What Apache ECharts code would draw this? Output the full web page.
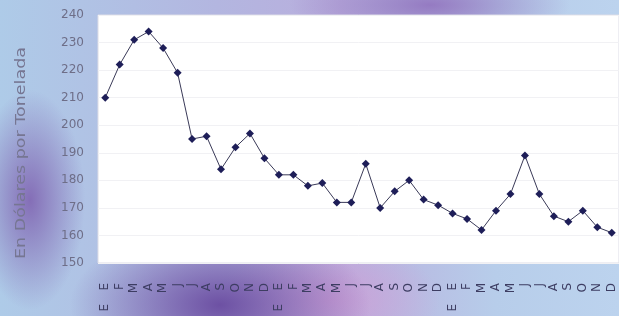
<!DOCTYPE html>
<html>
<head>
<meta charset="utf-8">
<script src="https://cdn.jsdelivr.net/npm/echarts@6/dist/echarts.min.js"></script>
<style>
html, body { margin: 0; padding: 0; }
#chart {
  width: 619px; height: 316px;
  background:
    radial-gradient(ellipse 150px 80px at 220px 305px, rgba(105,75,160,0.95), rgba(105,75,160,0) 100%),
    radial-gradient(ellipse 110px 60px at 330px 300px, rgba(205,160,215,0.9), rgba(205,160,215,0) 100%),
    radial-gradient(ellipse 55px 110px at 30px 200px, rgba(130,105,180,0.95), rgba(130,105,180,0) 100%),
    radial-gradient(ellipse 140px 40px at 430px 5px, rgba(145,115,190,0.9), rgba(145,115,190,0) 100%),
    linear-gradient(90deg, #aecbe8 0%, #b3b6e0 35%, #b9aedd 55%, #b7cdea 80%, #bcd3ee 100%);
}
</style>
</head>
<body>
<div id="chart"></div>
<script>
var months = ['E', 'F', 'M', 'A', 'M', 'J', 'J', 'A', 'S', 'O', 'N', 'D']
var categories = months.concat(months, months)
var yearLabels = ['E', '', '', '', '', '', '', '', '', '', '', '',
                  'E', '', '', '', '', '', '', '', '', '', '', '',
                  'E', '', '', '', '', '', '', '', '', '', '', '']
var prices = [210, 222, 231, 234, 228, 219, 195, 196, 184, 192, 197, 188,
              182, 182, 178, 179, 172, 172, 186, 170, 176, 180, 173, 171,
              168, 166, 162, 169, 175, 189, 175, 167, 165, 169, 163, 161]

var myChart = echarts.init(document.getElementById('chart'))
var labelStyle = {
  rotate: 90,
  interval: 0,
  color: '#3d3d62',
  fontSize: 12,
  fontFamily: 'DejaVu Sans'
}
var option = {
  animation: false,
  grid: {
    left: 98,
    right: -4,
    top: 15,
    bottom: 53,
    show: true,
    backgroundColor: '#fff',
    borderColor: '#dcdce6',
    borderWidth: 1
  },
  graphic: [{
    type: 'text',
    x: 21,
    y: 153,
    rotation: Math.PI / 2,
    scaleX: 1.25,
    style: {
      text: 'En Dólares por Tonelada',
      fill: '#767692',
      font: '14px "DejaVu Sans"',
      align: 'center',
      verticalAlign: 'middle'
    }
  }],
  xAxis: [{
    type: 'category',
    data: categories,
    boundaryGap: true,
    axisLine: { show: false },
    axisTick: { show: false },
    axisLabel: Object.assign({ margin: 20 }, labelStyle)
  }, {
    type: 'category',
    data: yearLabels,
    position: 'bottom',
    offset: 35,
    boundaryGap: true,
    axisLine: { show: false },
    axisTick: { show: false },
    axisLabel: Object.assign({ margin: 6 }, labelStyle)
  }],
  yAxis: {
    type: 'value',
    min: 150,
    max: 240,
    interval: 10,
    axisLine: { show: false },
    axisTick: { show: false },
    axisLabel: { color: '#6e6e88', fontSize: 12, margin: 14, fontFamily: 'DejaVu Sans' },
    splitLine: { lineStyle: { color: '#f1f1f4' } }
  },
  series: [{
    type: 'line',
    data: prices,
    xAxisIndex: 0,
    symbol: 'diamond',
    symbolSize: 8,
    lineStyle: { color: '#3a3a58', width: 1 },
    itemStyle: { color: '#1e1e58' }
  }]
}
myChart.setOption(option)
</script>
</body>
</html>
